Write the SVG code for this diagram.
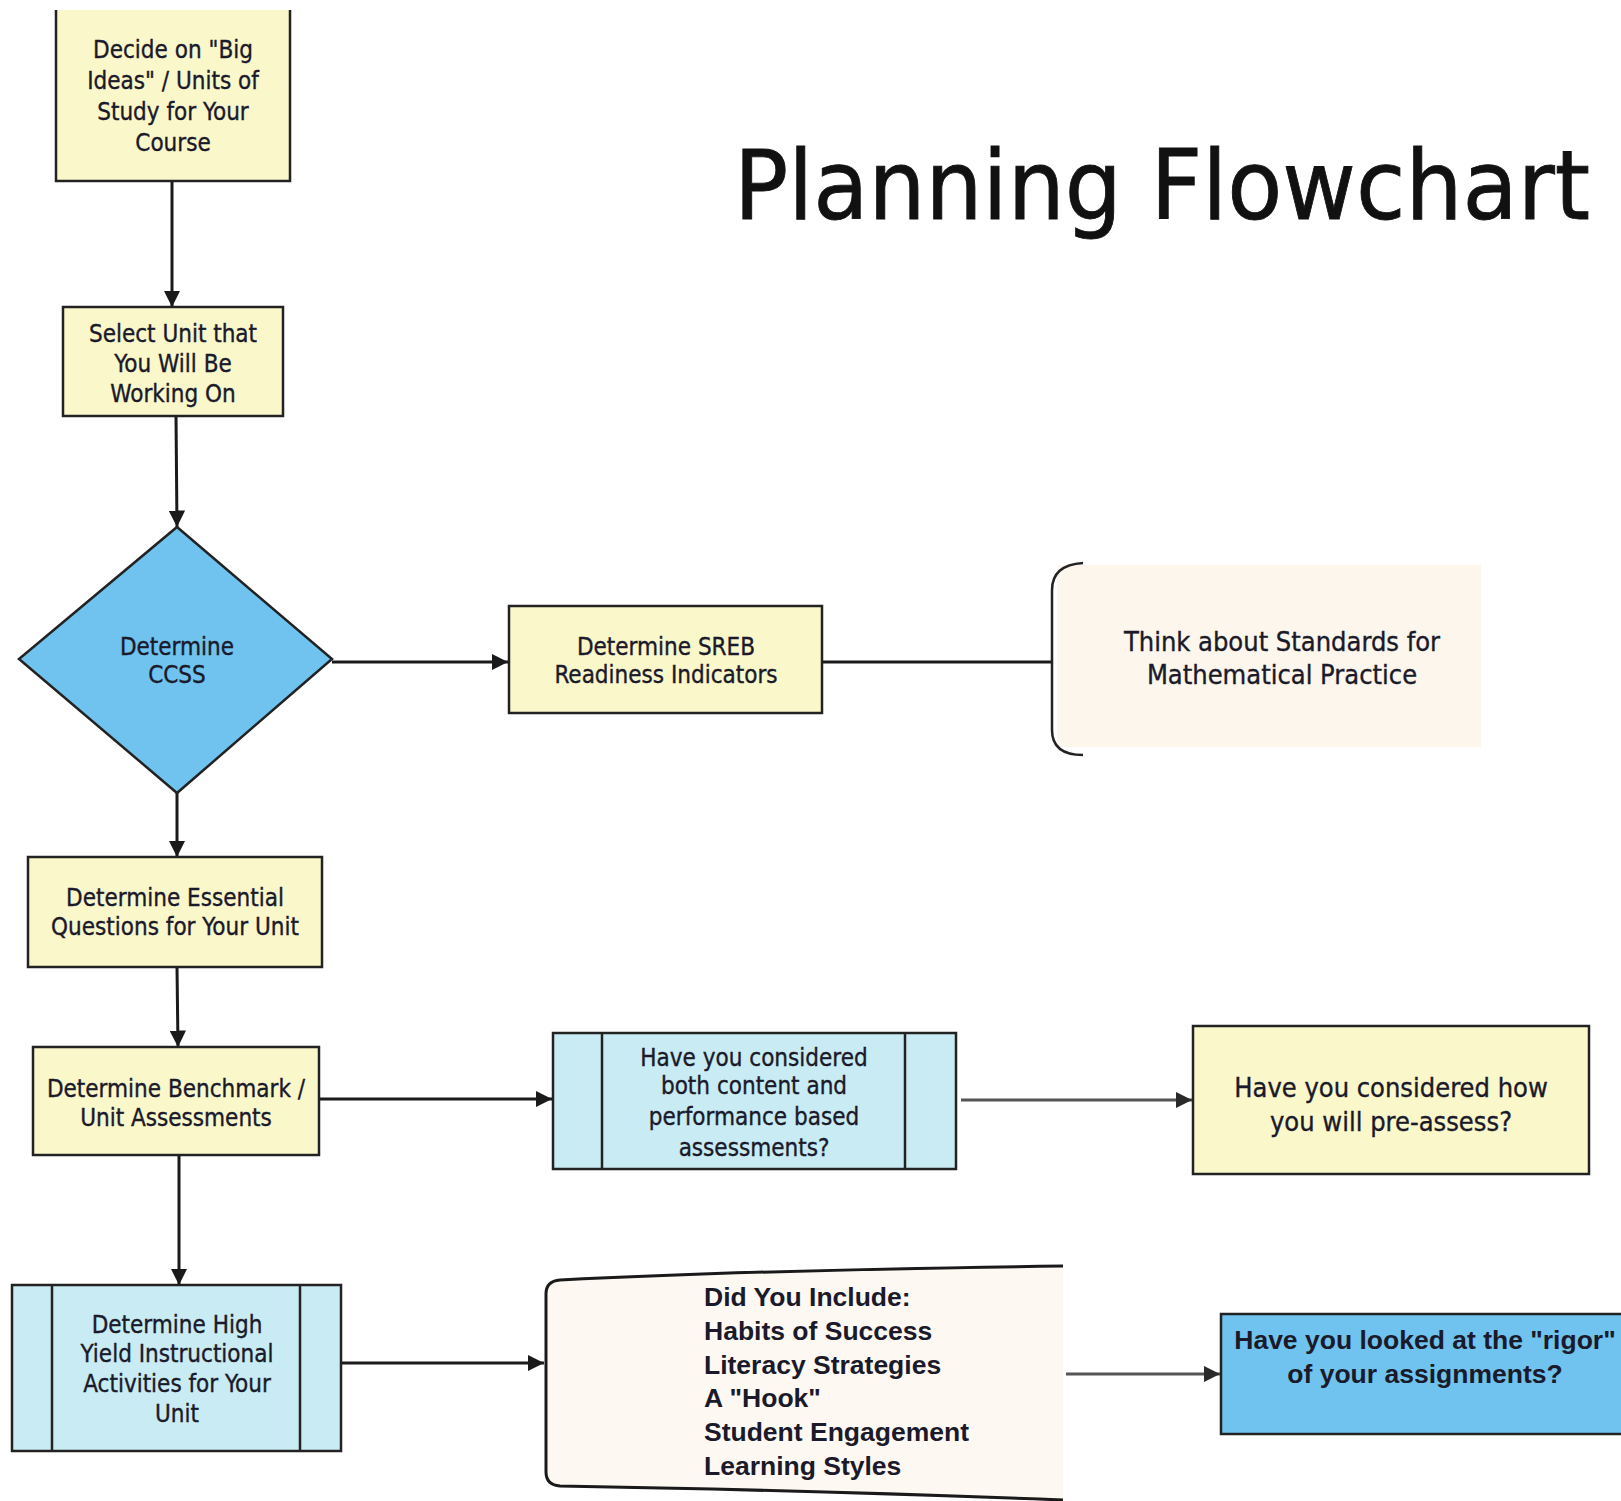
<svg xmlns="http://www.w3.org/2000/svg" width="1621" height="1501" viewBox="0 0 1621 1501">
<defs>
<marker id="ah" viewBox="0 0 10 10" refX="10" refY="5" markerWidth="5.5" markerHeight="5.5" markerUnits="strokeWidth" orient="auto">
<path d="M0,0 L10,5 L0,10 z" fill="#1a1a1a"/>
</marker>
<marker id="ahg" viewBox="0 0 10 10" refX="10" refY="5" markerWidth="5.5" markerHeight="5.5" markerUnits="strokeWidth" orient="auto">
<path d="M0,0 L10,5 L0,10 z" fill="#2a2a2a"/>
</marker>
<style>
.box{fill:#FAF7CB;stroke:#222;stroke-width:2.5}
.cyan{fill:#C9EBF3;stroke:#222;stroke-width:2.5}
.blue{fill:#6FC3EE;stroke:#222;stroke-width:2.5}
.t{font-family:"DejaVu Sans Condensed","DejaVu Sans",sans-serif;font-stretch:condensed;font-size:24px;fill:#1a1a2a;stroke:#1a1a2a;stroke-width:0.35;text-anchor:middle}
.tl{font-size:27px}
.a{font-family:"Liberation Sans",Arial,sans-serif;font-weight:bold;font-size:26.5px;fill:#1a1a2a}
.c{stroke:#1a1a1a;stroke-width:3;fill:none}
.cg{stroke:#555;stroke-width:3;fill:none}
</style>
</defs>
<rect width="1621" height="1501" fill="#ffffff"/>

<text x="734" y="219" font-family="'DejaVu Sans Condensed','DejaVu Sans',sans-serif" font-stretch="condensed" font-size="96" fill="#111" stroke="#111" stroke-width="0.8" textLength="856" lengthAdjust="spacingAndGlyphs">Planning Flowchart</text>

<g id="connectors">
<line class="c" x1="172" y1="181" x2="172" y2="307" marker-end="url(#ah)"/>
<line class="c" x1="176" y1="416" x2="177" y2="527" marker-end="url(#ah)"/>
<line class="c" x1="332" y1="662" x2="508" y2="662" marker-end="url(#ah)"/>
<line class="c" x1="822" y1="662" x2="1052" y2="662"/>
<line class="c" x1="177" y1="793" x2="177" y2="857" marker-end="url(#ah)"/>
<line class="c" x1="177" y1="967" x2="178" y2="1047" marker-end="url(#ah)"/>
<line class="c" x1="319" y1="1099" x2="552" y2="1099" marker-end="url(#ah)"/>
<line class="cg" x1="961" y1="1100" x2="1192" y2="1100" marker-end="url(#ahg)"/>
<line class="c" x1="179" y1="1155" x2="179" y2="1285" marker-end="url(#ah)"/>
<line class="c" x1="341" y1="1363" x2="544" y2="1363" marker-end="url(#ah)"/>
<line class="cg" x1="1066" y1="1374" x2="1220" y2="1374" marker-end="url(#ahg)"/>
</g>

<g id="n1">
<rect x="56" y="10" width="234" height="171" fill="#FAF7CB"/>
<path d="M56,10 L56,181 L290,181 L290,10" fill="none" stroke="#222" stroke-width="2.5"/>
<text class="t" x="173"><tspan x="173" y="58">Decide on "Big</tspan><tspan x="173" y="89">Ideas" / Units of</tspan><tspan x="173" y="120">Study for Your</tspan><tspan x="173" y="151">Course</tspan></text>
</g>

<g id="n2">
<rect class="box" x="63" y="307" width="220" height="109"/>
<text class="t"><tspan x="173" y="342">Select Unit that</tspan><tspan x="173" y="372">You Will Be</tspan><tspan x="173" y="402">Working On</tspan></text>
</g>

<g id="n3">
<polygon class="blue" points="177,527 332,659 177,793 19,659"/>
<text class="t"><tspan x="177" y="655">Determine</tspan><tspan x="177" y="683">CCSS</tspan></text>
</g>

<g id="n4">
<rect class="box" x="509" y="606" width="313" height="107"/>
<text class="t"><tspan x="666" y="655">Determine SREB</tspan><tspan x="666" y="683">Readiness Indicators</tspan></text>
</g>

<g id="n5">
<rect x="1057" y="565" width="424" height="182" fill="#FDF6EC"/>
<path d="M1083,563 Q1052,565 1052,590 L1052,730 Q1052,755 1083,755" fill="none" stroke="#222" stroke-width="2.5"/>
<text class="t tl"><tspan x="1282" y="651">Think about Standards for</tspan><tspan x="1282" y="684">Mathematical Practice</tspan></text>
</g>

<g id="n6">
<rect class="box" x="28" y="857" width="294" height="110"/>
<text class="t"><tspan x="175" y="906">Determine Essential</tspan><tspan x="175" y="935">Questions for Your Unit</tspan></text>
</g>

<g id="n7">
<rect class="box" x="33" y="1047" width="286" height="108"/>
<text class="t"><tspan x="176" y="1097">Determine Benchmark /</tspan><tspan x="176" y="1126">Unit Assessments</tspan></text>
</g>

<g id="n8">
<rect class="cyan" x="553" y="1033" width="403" height="136"/>
<line x1="602" y1="1033" x2="602" y2="1169" stroke="#222" stroke-width="2.5"/>
<line x1="905" y1="1033" x2="905" y2="1169" stroke="#222" stroke-width="2.5"/>
<text class="t"><tspan x="754" y="1066">Have you considered</tspan><tspan x="754" y="1094">both content and</tspan><tspan x="754" y="1125">performance based</tspan><tspan x="754" y="1156">assessments?</tspan></text>
</g>

<g id="n9">
<rect class="box" x="1193" y="1026" width="396" height="148"/>
<text class="t tl"><tspan x="1391" y="1097">Have you considered how</tspan><tspan x="1391" y="1131">you will pre-assess?</tspan></text>
</g>

<g id="n10">
<rect class="cyan" x="12" y="1285" width="329" height="166"/>
<line x1="52" y1="1285" x2="52" y2="1451" stroke="#222" stroke-width="2.5"/>
<line x1="300" y1="1285" x2="300" y2="1451" stroke="#222" stroke-width="2.5"/>
<text class="t"><tspan x="177" y="1333">Determine High</tspan><tspan x="177" y="1362">Yield Instructional</tspan><tspan x="177" y="1392">Activities for Your</tspan><tspan x="177" y="1422">Unit</tspan></text>
</g>

<g id="n11">
<path d="M560,1280 Q760,1270 1063,1266 L1063,1500 Q800,1490 560,1486 Q546,1485 546,1472 L546,1294 Q546,1281 560,1280 z" fill="#FEF8F3"/>
<path d="M1063,1266 Q760,1270 560,1280 Q546,1281 546,1294 L546,1472 Q546,1485 560,1486 Q800,1490 1063,1500" fill="none" stroke="#1a1a1a" stroke-width="3"/>
<text class="a"><tspan x="704" y="1306">Did You Include:</tspan><tspan x="704" y="1340">Habits of Success</tspan><tspan x="704" y="1374">Literacy Strategies</tspan><tspan x="704" y="1407">A "Hook"</tspan><tspan x="704" y="1441">Student Engagement</tspan><tspan x="704" y="1475">Learning Styles</tspan></text>
</g>

<g id="n12">
<rect class="blue" x="1221" y="1314" width="410" height="120"/>
<text class="a" text-anchor="middle"><tspan x="1425" y="1349">Have you looked at the "rigor"</tspan><tspan x="1425" y="1383">of your assignments?</tspan></text>
</g>
</svg>
